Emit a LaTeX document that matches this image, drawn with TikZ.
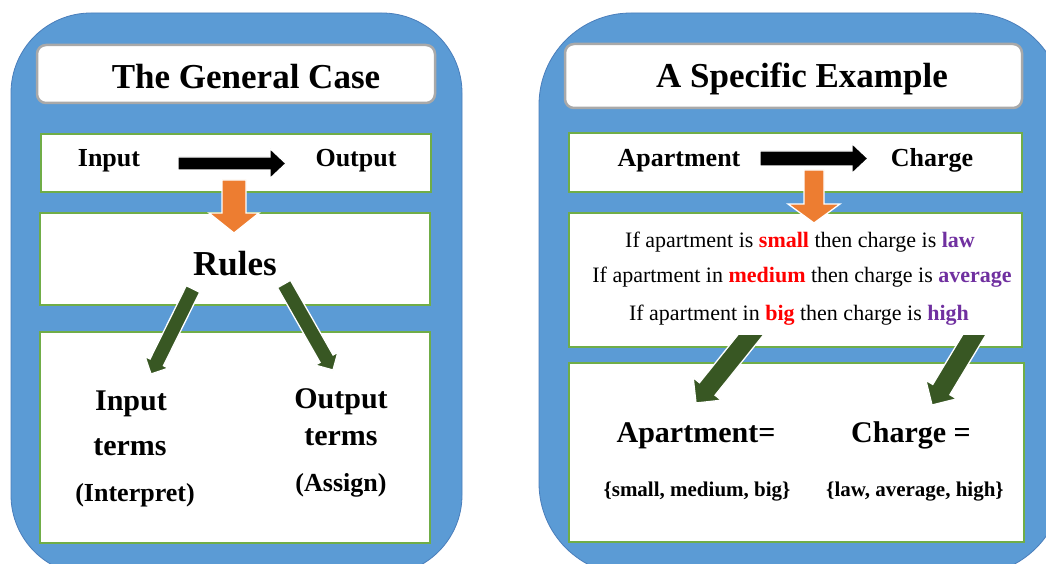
\documentclass[tikz,border=0pt]{standalone}
\usepackage{fontspec}
\setmainfont{Liberation Serif}[BoldFont={Liberation Serif Bold}, ItalicFont={Liberation Serif Italic}]
\usetikzlibrary{calc}
\definecolor{panelblue}{HTML}{5B9BD5}
\definecolor{paneledge}{HTML}{4A7EBB}
\definecolor{boxgreen}{HTML}{70AD47}
\definecolor{titlegray}{HTML}{A9A9A9}
\definecolor{arrorange}{HTML}{ED7D31}
\definecolor{arrgreen}{HTML}{385723}
\definecolor{rulered}{HTML}{FF0000}
\definecolor{rulepurple}{HTML}{7030A0}
\newcommand\blockarrow[6]{%
  \coordinate (ba-h) at ($(#2)!#5!(#1)$);
  \filldraw[fill=#6, draw=white, line width=1.3pt]
    ($(#1)!#3!90:(#2)$) -- ($(ba-h)!#3!-90:(#1)$) -- ($(ba-h)!#4!-90:(#1)$)
    -- (#2) -- ($(ba-h)!#4!90:(#1)$) -- ($(ba-h)!#3!90:(#1)$)
    -- ($(#1)!#3!-90:(#2)$) -- cycle;
}
\newcommand\fs[1]{\fontsize{#1}{#1}\selectfont}
\tikzset{
  panel/.style={fill=panelblue, draw=paneledge, line width=0.8pt},
  titlebox/.style={rectangle, rounded corners=9pt, fill=white, draw=titlegray, line width=2.5pt, inner sep=0pt, outer sep=0pt},
  greenbox/.style={rectangle, fill=white, draw=boxgreen, line width=2pt, inner sep=0pt, outer sep=0pt},
  lbl/.style={anchor=base, inner sep=0pt, outer sep=0pt},
}
\begin{document}
\begin{tikzpicture}[x=1pt, y=-1pt]
\clip (0,0) rectangle (1046,564);
\fill[white] (0,0) rectangle (1046,564);
% panels
\draw[panel, rounded corners=80pt] (11,13) rectangle (462,575);
\draw[panel, rounded corners=92pt] (539,13) rectangle (1063,575);
% left boxes
\node[titlebox, minimum width=398pt, minimum height=58pt] (titleL) at (236,74) {};
\node[greenbox, minimum width=390pt, minimum height=58pt] (ioL) at (236,163) {};
\node[greenbox, minimum width=390pt, minimum height=92pt] (rulesL) at (235,259) {};
\node[greenbox, minimum width=390pt, minimum height=211pt] (termsL) at (235,437.5) {};
% right boxes
\node[titlebox, minimum width=457pt, minimum height=64pt] (titleR) at (793.5,76) {};
\node[greenbox, minimum width=453pt, minimum height=59pt] (ioR) at (795.5,162.5) {};
\node[greenbox, minimum width=453pt, minimum height=134pt] (rulesR) at (795.5,280) {};
\node[greenbox, minimum width=455pt, minimum height=179pt] (termsR) at (796.5,452.5) {};
% left texts
\node[lbl, font=\fs{35}\bfseries] (tL) at (246,89) {The General Case};
\node[lbl, font=\fs{26}\bfseries] (inL) at (109,167) {Input};
\node[lbl, font=\fs{26}\bfseries] (outL) at (356,167) {Output};
\node[lbl, font=\fs{35}\bfseries] (ruL) at (235,275) {Rules};
\node[lbl, font=\fs{30}\bfseries] (it1) at (131,410) {Input};
\node[lbl, font=\fs{30}\bfseries] (it2) at (130,455) {terms};
\node[lbl, font=\fs{26}\bfseries] (it3) at (135,501) {(Interpret)};
\node[lbl, font=\fs{30}\bfseries] (ot1) at (341,408) {Output};
\node[lbl, font=\fs{30}\bfseries] (ot2) at (341,445) {terms};
\node[lbl, font=\fs{26}\bfseries] (ot3) at (341,491) {(Assign)};
% right texts
\node[lbl, font=\fs{35}\bfseries] (tR) at (802,88) {A Specific Example};
\node[lbl, font=\fs{26}\bfseries] (apR) at (679,167) {Apartment};
\node[lbl, font=\fs{26}\bfseries] (chR) at (932,167) {Charge};
\node[lbl, font=\fs{22}] (r1) at (800,247) {If apartment is {\bfseries\color{rulered}small} then charge is {\bfseries\color{rulepurple}law}};
\node[lbl, font=\fs{22}] (r2) at (802,282) {If apartment in {\bfseries\color{rulered}medium} then charge is {\bfseries\color{rulepurple}average}};
\node[lbl, font=\fs{22}] (r3) at (799,320) {If apartment in {\bfseries\color{rulered}big} then charge is {\bfseries\color{rulepurple}high}};
\node[lbl, font=\fs{30}\bfseries] (aeq) at (696,442) {Apartment=};
\node[lbl, font=\fs{30}\bfseries] (ceq) at (911,442) {Charge =};
\node[lbl, font=\fs{21}\bfseries] (aset) at (697,496) {\{small, medium, big\}};
\node[lbl, font=\fs{21}\bfseries] (cset) at (915,496) {\{law, average, high\}};
% arrow end points
\coordinate (bkL1) at (178,163.5); \coordinate (bkL2) at (286,163.5);
\coordinate (bkR1) at (760,158.5); \coordinate (bkR2) at (868,158.5);
\coordinate (orL1) at (234,180);   \coordinate (orL2) at (234,233);
\coordinate (orR1) at (814,170);   \coordinate (orR2) at (814,223);
\coordinate (gL1a) at (193,289);   \coordinate (gL1b) at (151,374);
\coordinate (gL2a) at (284,284);   \coordinate (gL2b) at (333,370);
\coordinate (gR1a) at (761,322);   \coordinate (gR1b) at (696,403);
\coordinate (gR2a) at (982,322);   \coordinate (gR2b) at (932,405);
% arrows
\blockarrow{bkL1}{bkL2}{6.5pt}{15pt}{16pt}{black}
\blockarrow{bkR1}{bkR2}{7.5pt}{15pt}{16pt}{black}
\blockarrow{orL1}{orL2}{12pt}{25pt}{20pt}{arrorange}
\blockarrow{orR1}{orR2}{10pt}{26pt}{19pt}{arrorange}
\blockarrow{gL1a}{gL1b}{7.5pt}{13pt}{13pt}{arrgreen}
\blockarrow{gL2a}{gL2b}{7.5pt}{13pt}{13pt}{arrgreen}
\begin{scope}
\clip (560,335) rectangle (1040,420);
\blockarrow{gR1a}{gR1b}{10pt}{18pt}{18pt}{arrgreen}
\blockarrow{gR2a}{gR2b}{10pt}{18pt}{18pt}{arrgreen}
\end{scope}
\end{tikzpicture}
\end{document}
